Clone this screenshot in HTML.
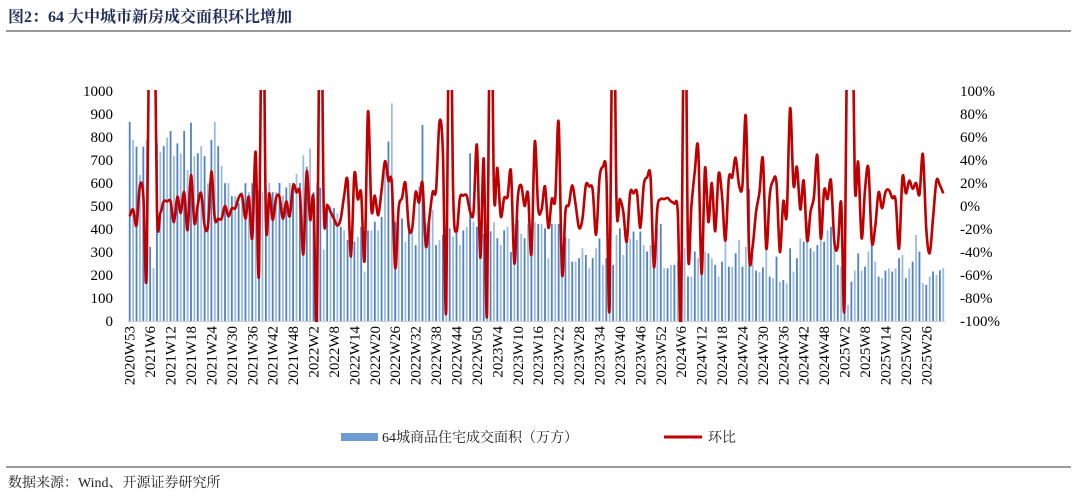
<!DOCTYPE html>
<html><head><meta charset="utf-8"><style>
body{margin:0;background:#fff;}
svg text{font-family:"Liberation Serif","Noto Serif CJK SC",serif;}
</style></head><body>
<svg width="1077" height="499" xmlns="http://www.w3.org/2000/svg">
<text x="8" y="22" font-size="16" font-weight="bold" fill="#1f2d5a">图2：64 大中城市新房成交面积环比增加</text>
<line x1="6" y1="31" x2="1071" y2="31" stroke="#333" stroke-width="1"/>
<g id="plot"></g>
<g>
<rect x="341" y="433" width="37" height="8" fill="#6f9bd4"/>
<text x="382" y="442" font-size="14" fill="#222">64城商品住宅成交面积（万方）</text>
<line x1="664" y1="437" x2="702" y2="437" stroke="#c00000" stroke-width="3"/>
<text x="708" y="442" font-size="14" fill="#222">环比</text>
</g>
<line x1="6" y1="467" x2="1071" y2="467" stroke="#333" stroke-width="1"/>
<text x="8" y="487" font-size="14" fill="#222">数据来源：Wind、开源证券研究所</text>
</svg>
<script>
const bars1=[866,787,758,635,758,787,323,229,772,736,760,797,826,717,772,729,826,656,862,717,729,760,717,599,787,866,760,674,599,599,543,543,512,562,599,560,599,620,570,560,580,600,560,560,600,545,580,600,600,640,600,720,670,750,560,600,580,310,490,500];
const bars2=[491,468,410,394,352,394,345,366,410,215,394,394,432,394,453,649,780,946,432,424,446,345,389,418,330,584,852,424,418,483,330,352,374,410,403,366,389,330,394,410,729,432,410,400,380,420,390,430,360,330,394,410,300,420,440,380,360,420,400,430];
const bars3=[422,422,403,273,422,422,422,330,366,359,258,258,273,316,287,229,273,316,359,244,273,359,244,374,403,287,345,359,389,352,389,330,302,330,330,403,422,229,229,244,244,258,215,316,193,193,302,273,316,302,294,273,244,193,258,345,236,236,294,352];
const bars4=[236,323,575,287,219,212,233,316,193,186,280,171,178,164,316,215,273,359,345,432,316,302,330,490,345,394,410,345,244,236,41,70,171,219,294,219,236,302,410,258,193,186,219,229,215,229,273,287,186,229,258,374,302,164,157,193,215,200,220,230];
const ratio1=[-9,-3,-17,18,9,-57,250,250,-2,-6,4,4,4,-14,8,-6,12,-21,27,-15,1,11,-17,-17,30,-11,-11,-11,0,-9,-2,-2,7,9,-11,8,-28,47,-57,250,-12,11,-12,7,8,-11,4,-9,18,12,11,-42,30,-12,6,-100,250,-2,1,-5];
const ratio2=[-11,-17,-11,9,22,-44,28,6,11,-47,82,-3,9,-8,14,39,22,20,-54,-2,7,20,-19,-19,12,3,20,-35,-11,12,14,73,47,-89,250,14,-22,7,9,9,-5,-5,53,-45,41,-92,250,12,33,-9,7,8,30,-50,7,18,0,11,-42,56];
const ratio3=[-2,-3,17,-19,6,6,73,-59,-5,1,18,1,-19,-11,18,17,14,-25,24,34,28,-86,250,4,6,-5,-31,11,11,12,-19,18,25,25,-53,-2,6,6,7,4,2,-5,-100,250,-37,0,30,50,-59,33,-14,20,-22,28,9,-30,24,25,42,18];
const ratio4=[18,78,-44,-35,-5,12,41,-37,9,22,20,-40,4,-8,85,18,34,-3,22,-30,-5,8,44,-28,14,6,22,-31,-35,3,-84,250,250,20,38,-28,14,33,-31,-18,12,-2,12,14,7,5,-37,25,11,22,15,20,10,45,-20,-41,-10,22,18,11];
const leftTicks=[0,100,200,300,400,500,600,700,800,900,1000];
const rightTicks=["-100%","-80%","-60%","-40%","-20%","0%","20%","40%","60%","80%","100%"];
const xLabels=["2020W53","2021W6","2021W12","2021W18","2021W24","2021W30","2021W36","2021W42","2021W48","2022W2","2022W8","2022W14","2022W20","2022W26","2022W32","2022W38","2022W44","2022W50","2023W4","2023W10","2023W16","2023W22","2023W28","2023W34","2023W40","2023W46","2023W52","2024W6","2024W12","2024W18","2024W24","2024W30","2024W36","2024W42","2024W48","2025W2","2025W8","2025W14","2025W20","2025W26"];
const bars=bars1.concat(bars2,bars3,bars4);
const ratio=ratio1.concat(ratio2,ratio3,ratio4);
const X0=128,X1=945,YT=91,YB=321,N=bars.length,bw=(X1-X0)/N;
const xAt=i=>X0+bw*(i+0.5);
const yL=v=>YB-(v/1000)*(YB-YT);
const yR=v=>YB-((v+100)/200)*(YB-YT);
const NS="http://www.w3.org/2000/svg";
const g=document.getElementById('plot');
function mk(t,a){const e=document.createElementNS(NS,t);for(const k in a)e.setAttribute(k,a[k]);g.appendChild(e);return e;}
const defs=mk('defs',{});
const cp=document.createElementNS(NS,'clipPath');cp.setAttribute('id','clip');
const cr=document.createElementNS(NS,'rect');cr.setAttribute('x',X0);cr.setAttribute('y',YT-1);cr.setAttribute('width',X1-X0);cr.setAttribute('height',YB-YT+2);
cp.appendChild(cr);defs.appendChild(cp);
leftTicks.forEach(v=>{const t=mk('text',{x:113,y:yL(v)+5,'text-anchor':'end','font-size':15,fill:'#000'});t.textContent=v;

});
rightTicks.forEach((s,k)=>{const t=mk('text',{x:960,y:yR(-100+20*k)+5,'font-size':15,fill:'#000'});t.textContent=s;

});
bars.forEach((v,i)=>{const r=mk('rect',{x:xAt(i)-0.9,y:yL(v),width:1.8,height:YB-yL(v),fill:i%2?'#9bbbe3':'#4f81c6'});

});
const ax=mk('line',{x1:X0,y1:YB+0.5,x2:X1,y2:YB+0.5,stroke:'#d0d0d0','stroke-width':1});


const P=ratio.map((v,i)=>[xAt(i),yR(v)]);
let d='M'+P[0][0]+','+P[0][1];
for(let i=0;i<P.length-1;i++){const p0=P[Math.max(0,i-1)],p1=P[i],p2=P[i+1],p3=P[Math.min(P.length-1,i+2)];
d+=' C'+(p1[0]+(p2[0]-p0[0])/6)+','+(p1[1]+(p2[1]-p0[1])/6)+' '+(p2[0]-(p3[0]-p1[0])/6)+','+(p2[1]-(p3[1]-p1[1])/6)+' '+p2[0]+','+p2[1];}
const ln=mk('path',{d:d,fill:'none',stroke:'#c00000','stroke-width':2.6,'clip-path':'url(#clip)','stroke-linejoin':'round'});


xLabels.forEach((s,k)=>{const x=xAt(k*6)+5;const t=mk('text',{x:0,y:0,'text-anchor':'end','font-size':15,fill:'#000',transform:'translate('+x+',326) rotate(-90)'});t.textContent=s;

});
</script>
</body></html>
